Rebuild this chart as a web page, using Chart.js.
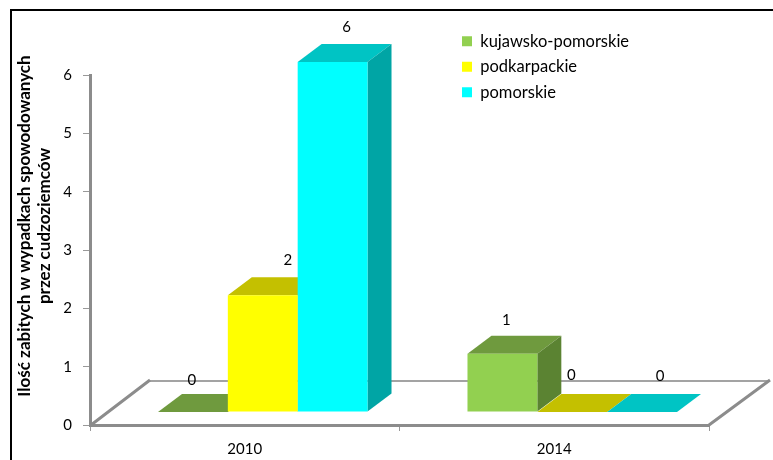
<!DOCTYPE html>
<html>
<head>
<meta charset="utf-8">
<style>
  html, body { margin: 0; padding: 0; background: #fff; }
  #wrap { width: 773px; height: 460px; }
</style>
</head>
<body>
<div id="wrap"><canvas id="grafico" width="773" height="460"></canvas></div>
<script src="https://cdn.jsdelivr.net/npm/chart.js@4"></script>
<script>
const categories = ["2010", "2014"];
const kujawsko = [0, 1];
const podkarpackie = [2, 0];
const pomorskie = [6, 0];
const axisTitle = ["Ilość zabitych w wypadkach spowodowanych", "przez cudzoziemców"];

const fontName = "Lato, 'Open Sans', sans-serif";
const axisGrey = "#8c8c8c";
const floorGrey = "#a3a3a3";

// bars sit on a raised floor, so everything is shifted from the scale by this
const shift = { x: 18, y: -13 };
const depth = { x: 24, y: -18 };

const series = [
  { label: "kujawsko-pomorskie", data: kujawsko, front: "#92d050", top: "#6f9a3e", side: "#5b8332" },
  { label: "podkarpackie", data: podkarpackie, front: "#ffff00", top: "#c4c000", side: "#a5a500" },
  { label: "pomorskie", data: pomorskie, front: "#00ffff", top: "#00c4c4", side: "#00a5a5" }
];

// where each value label sits against the back edge of its bar
const labelNudge = [
  [{ x: -1, y: -14 }, { x: 4, y: -16 }],
  [{ x: 25, y: -17 }, { x: -1, y: -19 }],
  [{ x: 14, y: -17 }, { x: 18, y: -18 }]
];

function poly(ctx, color, pts) {
  ctx.fillStyle = color;
  ctx.beginPath();
  pts.forEach((p, i) => i ? ctx.lineTo(p[0], p[1]) : ctx.moveTo(p[0], p[1]));
  ctx.closePath();
  ctx.fill();
}

const bars3d = {
  id: "bars3d",
  beforeDatasetsDraw(chart) {
    const ctx = chart.ctx;
    const { left, right, bottom } = chart.chartArea;

    // floor outline, the back edge is lighter than the two diagonals
    ctx.save();
    ctx.lineWidth = 2;
    ctx.strokeStyle = floorGrey;
    ctx.beginPath();
    ctx.moveTo(left + 60, bottom - 44);
    ctx.lineTo(right + 61, bottom - 44);
    ctx.stroke();
    ctx.lineWidth = 3;
    ctx.strokeStyle = axisGrey;
    ctx.beginPath();
    ctx.moveTo(left + 1, bottom);
    ctx.lineTo(left + 60, bottom - 45);
    ctx.moveTo(right + 61, bottom - 45);
    ctx.lineTo(right, bottom);
    ctx.stroke();
    ctx.restore();

    ctx.save();
    ctx.translate(shift.x, shift.y);
    series.forEach((s, i) => {
      chart.getDatasetMeta(i).data.forEach(bar => {
        const x0 = bar.x - bar.width / 2;
        const x1 = bar.x + bar.width / 2;
        poly(ctx, s.top, [[x0, bar.y], [x1, bar.y], [x1 + depth.x, bar.y + depth.y], [x0 + depth.x, bar.y + depth.y]]);
        poly(ctx, s.side, [[x1, bar.y], [x1 + depth.x, bar.y + depth.y], [x1 + depth.x, bar.base + depth.y], [x1, bar.base]]);
      });
    });
    // left on, afterDatasetsDraw restores it so the native fronts get the same shift
  },
  afterDatasetsDraw(chart) {
    const ctx = chart.ctx;
    ctx.restore();

    ctx.save();
    ctx.fillStyle = "#000";
    ctx.font = "15px " + fontName;
    ctx.textAlign = "center";
    ctx.textBaseline = "middle";
    series.forEach((s, i) => {
      chart.getDatasetMeta(i).data.forEach((bar, j) => {
        const n = labelNudge[i][j];
        ctx.fillText(String(s.data[j]), bar.x + shift.x + n.x, bar.y + shift.y + depth.y + n.y);
      });
    });
    ctx.restore();
  },
  afterLayout(chart) {
    chart.legend.left = 453;
    chart.legend.top = 24;
  },
  afterDraw(chart) {
    const ctx = chart.ctx;
    ctx.save();
    // axis title
    ctx.fillStyle = "#000";
    ctx.font = "bold 17px " + fontName;
    ctx.textAlign = "center";
    ctx.textBaseline = "middle";
    ctx.translate(25, 226);
    ctx.rotate(-Math.PI / 2);
    ctx.fillText(axisTitle[0], 0, 0);
    ctx.fillText(axisTitle[1], 0, 20);
    ctx.restore();

    // frame
    ctx.save();
    ctx.strokeStyle = "#000";
    ctx.lineWidth = 2;
    ctx.beginPath();
    ctx.moveTo(11, 460);
    ctx.lineTo(11, 10);
    ctx.lineTo(773, 10);
    ctx.stroke();
    ctx.restore();
  }
};

new Chart(document.getElementById("grafico"), {
  type: "bar",
  data: {
    labels: categories,
    datasets: series.map(s => ({
      label: s.label,
      data: s.data,
      backgroundColor: s.front,
      borderWidth: 0,
      categoryPercentage: 0.677,
      barPercentage: 1,
      clip: false
    }))
  },
  options: {
    responsive: false,
    animation: false,
    layout: { padding: { left: 0, right: 64, top: 75, bottom: 0 } },
    plugins: {
      tooltip: { enabled: false },
      legend: {
        position: "chartArea",
        align: "start",
        labels: {
          boxWidth: 10,
          boxHeight: 10,
          color: "#000",
          padding: 9,
          font: { family: fontName, size: 16.5 }
        }
      }
    },
    scales: {
      x: {
        afterFit: s => { s.height = 35; },
        border: { color: axisGrey, width: 3 },
        grid: { drawOnChartArea: false, tickLength: 6, tickColor: "#999" },
        ticks: { color: "#000", padding: 9, font: { family: fontName, size: 15 } }
      },
      y: {
        min: 0,
        max: 6,
        afterFit: s => { s.width = 90; },
        border: { color: axisGrey, width: 3 },
        grid: { drawOnChartArea: false, tickLength: 7, tickColor: "#999" },
        ticks: { stepSize: 1, color: "#000", padding: 11, font: { family: fontName, size: 15 } }
      }
    }
  },
  plugins: [bars3d]
});
</script>
</body>
</html>
